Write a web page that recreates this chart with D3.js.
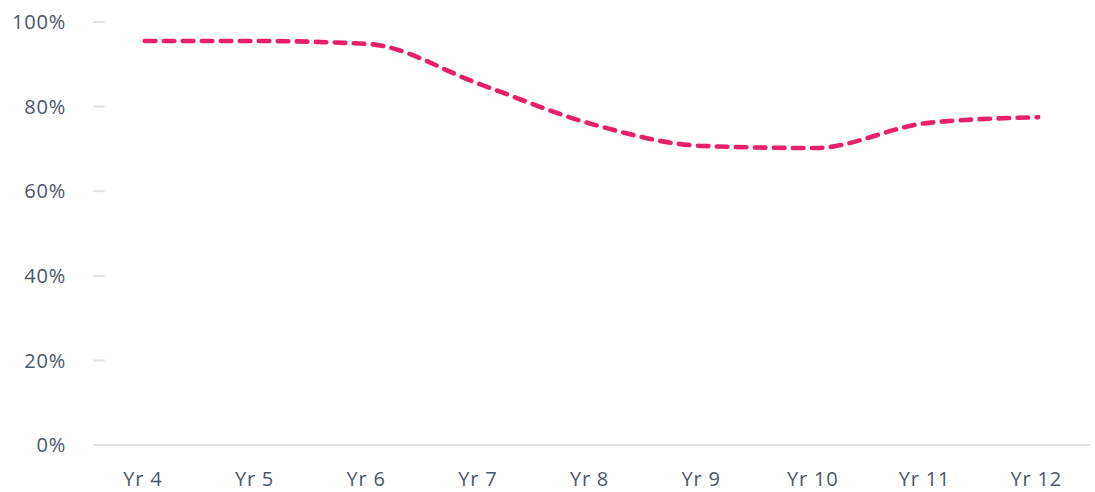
<!DOCTYPE html>
<meta charset="utf-8">
<style>
	body { margin: 0; background: #fff; }
	svg text { font-family: "Open Sans", Lato, sans-serif; fill: #4a5869; }
</style>
<svg width="1095" height="492"></svg>
<script src="https://d3js.org/d3.v7.min.js"></script>
<script>
	// data
	var years = ["Yr 4", "Yr 5", "Yr 6", "Yr 7", "Yr 8", "Yr 9", "Yr 10", "Yr 11", "Yr 12"];
	var rates = [95.5, 95.5, 94.8, 85.3, 75.9, 70.7, 70.2, 76.1, 77.5];
	var yTicks = [0, 20, 40, 60, 80, 100];

	var svg = d3.select("svg");

	// scales
	var x = d3.scalePoint().domain(years).range([89, 1094]).padding(0.5);
	var y = d3.scaleLinear().domain([0, 100]).range([445, 22]);

	// y ticks
	var yAxis = svg.append("g");
	yAxis.selectAll("line")
		.data(yTicks.filter(function(d) { return d > 0; }))
		.enter().append("line")
			.attr("x1", 93).attr("x2", 105)
			.attr("y1", function(d) { return y(d); })
			.attr("y2", function(d) { return y(d); })
			.attr("stroke", "#dfe4ea")
			.attr("stroke-width", 2);
	yAxis.selectAll("text")
		.data(yTicks)
		.enter().append("text")
			.attr("x", 66)
			.attr("y", function(d) { return y(d); })
			.attr("dy", "0.36em")
			.attr("text-anchor", "end")
			.style("font-size", "20px")
			.style("letter-spacing", "0.8px")
			.text(function(d) { return d + "%"; });

	// baseline
	svg.append("line")
		.attr("x1", 93).attr("x2", 1090)
		.attr("y1", y(0)).attr("y2", y(0))
		.attr("stroke", "#dfe4ea")
		.attr("stroke-width", 2);

	// x labels
	svg.append("g").selectAll("text")
		.data(years)
		.enter().append("text")
			.attr("x", function(d) { return x(d) - 2; })
			.attr("y", 486)
			.attr("text-anchor", "middle")
			.style("font-size", "20px")
			.style("letter-spacing", "0.8px")
			.text(function(d) { return d; });

	// line
	var line = d3.line()
		.x(function(d, i) { return x(years[i]); })
		.y(function(d) { return y(d); })
		.curve(d3.curveMonotoneX);

	svg.append("path")
		.datum(rates)
		.attr("d", line)
		.attr("fill", "none")
		.attr("stroke", "#e8206c")
		.attr("stroke-width", 4.6)
		.attr("stroke-linecap", "round")
		.attr("stroke-dasharray", "10.5,8.5");
</script>
